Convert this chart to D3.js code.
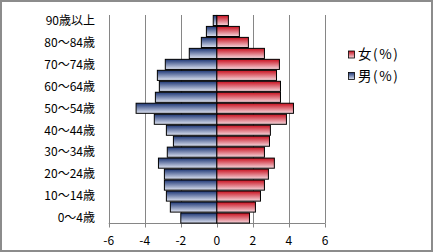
<!DOCTYPE html>
<html><head><meta charset="utf-8">
<script src="https://cdn.jsdelivr.net/npm/d3@7"></script>
<style>body{margin:0;background:#fff}svg{display:block;font-family:"Noto Sans CJK JP",sans-serif}</style>
</head><body><svg id="c" width="433" height="252"></svg>
<script>
const categories = ["0〜4歳","5〜9歳","10〜14歳","15〜19歳","20〜24歳","25〜29歳","30〜34歳","35〜39歳","40〜44歳","45〜49歳","50〜54歳","55〜59歳","60〜64歳","65〜69歳","70〜74歳","75〜79歳","80〜84歳","85〜89歳","90歳以上"];
const male = [-2.00,-2.58,-2.80,-2.91,-2.91,-3.24,-2.75,-2.41,-2.80,-3.47,-4.48,-3.41,-3.19,-3.30,-2.86,-1.53,-0.86,-0.58,-0.20];
const female = [1.81,2.14,2.42,2.64,2.86,3.19,2.64,2.92,2.97,3.86,4.25,3.53,3.53,3.31,3.47,2.64,1.75,1.25,0.64];
const xTicks = [-6,-4,-2,0,2,4,6];
const labelShown = ["0〜4歳","10〜14歳","20〜24歳","30〜34歳","40〜44歳","50〜54歳","60〜64歳","70〜74歳","80〜84歳","90歳以上"];
const seriesNames = ["女(%)","男(%)"];

const svg = d3.select("#c");
const defs = svg.append("defs");
function grad(id, c0, c1){
  const g = defs.append("linearGradient").attr("id",id).attr("x1",0).attr("y1",0).attr("x2",0).attr("y2",1);
  g.append("stop").attr("offset","0%").attr("stop-color",c0);
  g.append("stop").attr("offset","100%").attr("stop-color",c1);
}
grad("gb","#1d3675","#dfe4f2");
grad("gr","#c80f1e","#f6d8de");

svg.append("rect").attr("x",1).attr("y",1).attr("width",431).attr("height",250)
  .attr("fill","#fff").attr("stroke","#8c8c8c").attr("stroke-width",2);

const x = d3.scaleLinear().domain([-6,6]).range([108.7,325]);
const y = d3.scaleBand().domain(categories.slice().reverse()).range([15,223.5]).paddingInner(0.08).paddingOuter(0.04);

// gridlines
svg.append("g").selectAll("line").data(xTicks).join("line")
  .attr("x1",d=>Math.round(x(d))+0.5).attr("x2",d=>Math.round(x(d))+0.5)
  .attr("y1",15).attr("y2",223.5).attr("stroke","#868686").attr("stroke-width",1);

// x axis
const xa = svg.append("g").attr("transform","translate(0,223.5)");
xa.append("line").attr("x1",x(-6)).attr("x2",x(6)).attr("stroke","#868686");
xa.selectAll("line.t").data(xTicks).join("line").attr("class","t")
  .attr("x1",d=>Math.round(x(d))+0.5).attr("x2",d=>Math.round(x(d))+0.5)
  .attr("y1",0).attr("y2",4).attr("stroke","#868686");
xa.selectAll("text").data(xTicks).join("text")
  .attr("x",d=>x(d)).attr("y",21).attr("text-anchor","middle")
  .attr("font-size",12).attr("fill","#000").text(d=>d);

// bars
const bw = y.bandwidth();
svg.append("g").selectAll("rect").data(categories.map((c,i)=>({c,v:male[i]}))).join("rect")
  .attr("x",d=>x(d.v)).attr("width",d=>x(0)-x(d.v))
  .attr("y",d=>y(d.c)).attr("height",bw)
  .attr("fill","url(#gb)").attr("stroke","#000").attr("stroke-width",1);
svg.append("g").selectAll("rect").data(categories.map((c,i)=>({c,v:female[i]}))).join("rect")
  .attr("x",x(0)).attr("width",d=>x(d.v)-x(0))
  .attr("y",d=>y(d.c)).attr("height",bw)
  .attr("fill","url(#gr)").attr("stroke","#000").attr("stroke-width",1);

// y labels
svg.append("g").selectAll("text").data(labelShown).join("text")
  .attr("x",95).attr("y",d=>y(d)+y.bandwidth()/2).attr("dy","0.36em")
  .attr("text-anchor","end").attr("font-size",12).attr("fill","#000").text(d=>d);

// legend
const lg = svg.append("g");
const lgY = [54.5,76];
const lgFill = ["url(#gr)","url(#gb)"];
seriesNames.forEach((n,i)=>{
  lg.append("rect").attr("x",348.5).attr("y",lgY[i]-3.5).attr("width",6).attr("height",7)
    .attr("fill",lgFill[i]).attr("stroke","#000").attr("stroke-width",0.8);
  lg.append("text").attr("x",358).attr("y",lgY[i]).attr("dy","0.36em")
    .attr("font-size",13.5).attr("letter-spacing",1.6).attr("fill","#000").text(n);
});
</script></body></html>
